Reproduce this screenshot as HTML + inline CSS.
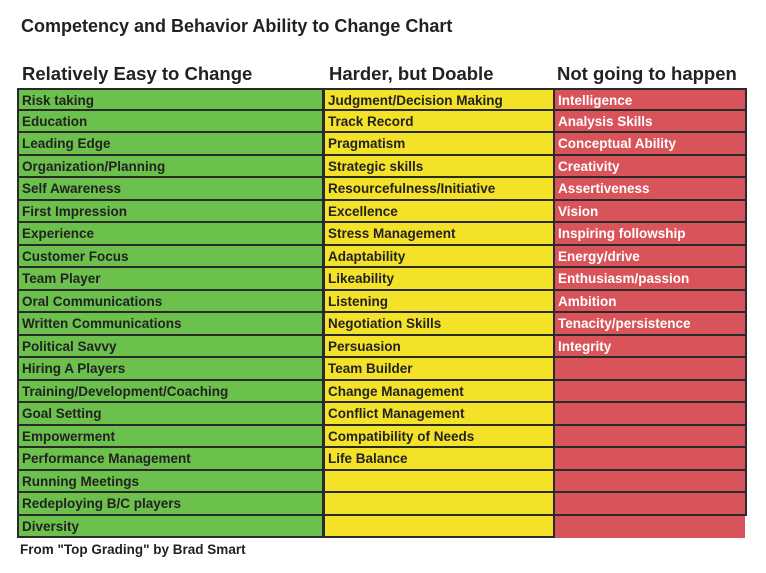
<!DOCTYPE html>
<html><head><meta charset="utf-8"><style>
body{margin:0;width:766px;height:573px;background:#fff;font-family:"Liberation Sans",sans-serif;position:relative;overflow:hidden}
.t{position:absolute;font-weight:bold;color:#222;white-space:nowrap}
.col{position:absolute;top:88px}
.cell{box-sizing:border-box;height:22.5px;border:2px solid #2a2a2a;border-top:none;font-weight:bold;font-size:13.5px;color:#fff;padding-left:3px;line-height:21px;white-space:nowrap;overflow:hidden}
.cell:first-child{border-top:2px solid #2a2a2a}
.g .cell{background:#6cc04c;color:#222}
.y .cell{background:#f4e229;color:#222}
.r .cell{background:#d9535a;color:#fff}
</style></head><body>
<div class="t" style="left:21px;top:16px;font-size:18px">Competency and Behavior Ability to Change Chart</div>
<div class="t" style="left:22px;top:63px;font-size:18.5px">Relatively Easy to Change</div>
<div class="t" style="left:329px;top:63px;font-size:18.5px">Harder, but Doable</div>
<div class="t" style="left:557px;top:63px;font-size:18.5px">Not going to happen</div>
<div class="col g" id="g" style="left:17px;width:307px"></div>
<div class="col y" id="y" style="left:323px;width:232px"></div>
<div class="col r" id="r" style="left:553px;width:194px"></div>
<div class="t" style="left:20px;top:542px;font-size:13.5px">From "Top Grading" by Brad Smart</div>
<script>
const easy=["Risk taking","Education","Leading Edge","Organization/Planning","Self Awareness","First Impression","Experience","Customer Focus","Team Player","Oral Communications","Written Communications","Political Savvy","Hiring A Players","Training/Development/Coaching","Goal Setting","Empowerment","Performance Management","Running Meetings","Redeploying B/C players","Diversity"];
const harder=["Judgment/Decision Making","Track Record","Pragmatism","Strategic skills","Resourcefulness/Initiative","Excellence","Stress Management","Adaptability","Likeability","Listening","Negotiation Skills","Persuasion","Team Builder","Change Management","Conflict Management","Compatibility of Needs","Life Balance","","",""];
const notgoing=["Intelligence","Analysis Skills","Conceptual Ability","Creativity","Assertiveness","Vision","Inspiring followship","Energy/drive","Enthusiasm/passion","Ambition","Tenacity/persistence","Integrity","","","","","","","",""];
function fill(id,arr){
  const c=document.getElementById(id);
  arr.forEach((s,i)=>{
    const d=document.createElement('div');
    d.className='cell';
    d.textContent=s;
    
    
    if(id==='r'&&i===19){d.style.border='none';d.style.marginLeft='2px';d.style.width='190px';}
    c.appendChild(d);
  });
}
fill('g',easy);fill('y',harder);fill('r',notgoing);
</script>
</body></html>
